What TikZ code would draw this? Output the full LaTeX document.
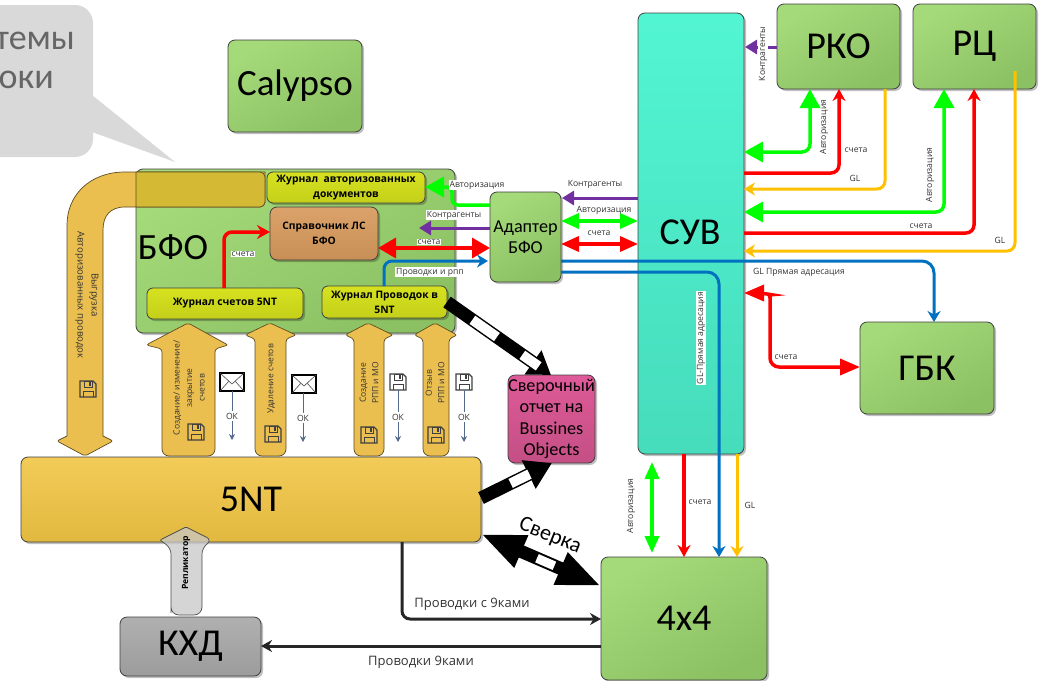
\documentclass[tikz,border=0pt]{standalone}
\usepackage{fontspec}
\setmainfont{Carlito}
\newfontfamily\labf{Open Sans}
\usetikzlibrary{arrows.meta,shadows,calc}
\definecolor{cgreenA}{HTML}{A4DA7A}
\definecolor{cgreenB}{HTML}{8CC163}
\definecolor{cyelA}{HTML}{F2CB58}
\definecolor{cyelB}{HTML}{E2B93F}
\definecolor{carrow}{HTML}{EBBE50}
\definecolor{colive}{HTML}{D4B935}
\definecolor{clime}{HTML}{D6E21F}
\definecolor{climeB}{HTML}{C4CF1A}
\definecolor{cbrownA}{HTML}{DBA36B}
\definecolor{cbrownB}{HTML}{C78F55}
\definecolor{cteal}{HTML}{52F5D2}
\definecolor{ctealB}{HTML}{46DCBC}
\definecolor{cpinkA}{HTML}{DE5A98}
\definecolor{cpinkB}{HTML}{C44F85}
\definecolor{cgrey}{HTML}{B0B0B0}
\definecolor{cgreyB}{HTML}{9C9C9C}
\definecolor{cpurple}{HTML}{7030A0}
\definecolor{cyline}{HTML}{FFC000}
\definecolor{cblue}{HTML}{0070C0}
\definecolor{cok}{HTML}{55698A}
\newcommand\yupshape[8]{\draw[yarrow,rounded corners=3pt] (#1,#8) -- (#1,#7+4) -- (#3,#7) [rounded corners=2pt] -- (#5,#6) -- (#4,#7) [rounded corners=3pt] -- (#2,#7+4) -- (#2,#8) [rounded corners=7pt] -- (#2,456) -- (#1,456) -- cycle;}
\tikzset{
  boxbase/.style={draw=black!75,line width=.8pt,rounded corners=7pt,anchor=north west,inner sep=0pt,outer sep=0pt,align=center,
    drop shadow={shadow xshift=2pt,shadow yshift=-2pt,fill=black,opacity=.25}},
  greenbox/.style={boxbase,top color=cgreenA,bottom color=cgreenB,shading angle=30},
  yelbox/.style={boxbase,top color=cyelA,bottom color=cyelB},
  limebox/.style={boxbase,top color=clime,bottom color=climeB,rounded corners=6pt,font=\labf\bfseries\fontsize{10.3}{15}\selectfont},
  brownbox/.style={boxbase,top color=cbrownA,bottom color=cbrownB,font=\labf\bfseries\fontsize{10.3}{15}\selectfont},
  tealbox/.style={boxbase,top color=cteal,bottom color=ctealB},
  pinkbox/.style={boxbase,top color=cpinkA,bottom color=cpinkB},
  greybox/.style={boxbase,top color=cgrey,bottom color=cgreyB},
  bigtxt/.style={font=\fontsize{38}{40}\selectfont},
  midtxt/.style={font=\fontsize{18.2}{21.3}\selectfont},
  lbl/.style={font=\labf\fontsize{8.6}{10}\selectfont,text=black!80,inner sep=1pt,fill=white},
  lblclear/.style={font=\labf\fontsize{8.6}{10}\selectfont,text=black!80,inner sep=1pt},
  arrowtxt/.style={font=\labf\fontsize{8.5}{12.5}\selectfont,text=black!80,inner sep=0pt,align=center},
  yarrow/.style={draw=black!60!carrow,line width=.7pt,fill=carrow},
  grn/.style={line width=3.5pt,draw=green,rounded corners=8pt,>={Triangle[length=19pt,width=20pt]}},
  rd/.style={line width=3.5pt,draw=red,rounded corners=8pt,>={Triangle[length=18pt,width=20pt]}},
  rdthin/.style={line width=3.5pt,draw=red,rounded corners=8pt,>={Stealth[length=12pt,width=13pt]}},
  prp/.style={line width=3pt,draw=cpurple,>={Triangle[length=12pt,width=14pt]}},
  ylw/.style={line width=3pt,draw=cyline,rounded corners=8pt,>={Stealth[length=11pt,width=13pt]}},
  blu/.style={line width=3pt,draw=cblue,rounded corners=8pt,>={Stealth[length=11pt,width=13pt]}},
  blk/.style={line width=3pt,draw=black!85,rounded corners=8pt,>={Stealth[length=11pt,width=12pt]}},
  okline/.style={draw=cok,line width=.8pt,-{Stealth[length=6pt,width=6pt]}},
  floppy/.pic={
    \draw[draw=black!75,line width=1.1pt,fill=#1] (-8,-8) -- (5,-8) -- (8,-5) -- (8,8) -- (-8,8) -- cycle;
    \draw[draw=black!75,line width=1pt,fill=#1] (-4,-8) rectangle (4,-2);
    \fill[black!75] (1,-7.5) rectangle (3,-3);
    \draw[draw=black!75,line width=1pt] (-5,8) -- (-5,2) -- (5,2) -- (5,8);
  },
  envelope/.pic={
    \draw[draw=black,line width=1.4pt,fill=white] (-12,-9) rectangle (12,9);
    \draw[draw=black!70,line width=.6pt] (-12,-9) -- (0,2) -- (12,-9) (-12,9) -- (-3,-1) (12,9) -- (3,-1);
  }
}
\begin{document}
\begin{tikzpicture}[x=1pt,y=-1pt]
\useasboundingbox (0,0) rectangle (1043,680);
% callout
\fill[black!15,rounded corners=18pt] (-40,5) -- (93,5) -- (93,157) -- (-40,157) -- cycle;
\fill[black!15] (92,95) -- (175,162) -- (92,132) -- cycle;
\node[anchor=east,text=black!60,font=\fontsize{36}{40}\selectfont,inner sep=0pt] (cal1) at (75,41) {темы};
\node[anchor=east,text=black!60,font=\fontsize{36}{40}\selectfont,inner sep=0pt] (cal2) at (54,80) {оки};
% Calypso
\node[greenbox,minimum width=134pt,minimum height=92pt,font=\fontsize{37}{40}\selectfont] (calypso) at (228,40) {Calypso};
% BFO panel
\node[greenbox,minimum width=319pt,minimum height=164pt] (bfo) at (136,169) {};
\node[anchor=center,font=\fontsize{37}{40}\selectfont,inner sep=0pt] (bfot) at (173,247) {БФО};
% export arrow
\draw[yarrow,rounded corners=5pt]
  (265,172) -- (265,207) [sharp corners] -- (125,207) .. controls (110,207) and (103,216) .. (103,230) -- (103,436) [rounded corners=2pt] -- (113,441) -- (85,456) -- (57,441) [sharp corners] -- (67,436) -- (67,225) .. controls (67,195) and (90,172) .. (125,172) -- cycle;
\draw[draw=black!60!carrow,line width=.7pt,fill=colive,rounded corners=5pt] (136,207) [sharp corners] -- (136,172) [rounded corners=5pt] -- (265,172) -- (265,207) [sharp corners] -- cycle;
\node[arrowtxt,rotate=-90,font=\labf\fontsize{9.6}{14}\selectfont] (vyg) at (87,295) {Выгрузка\\Авторизованных проводок};
\pic at (88,389) {floppy=carrow};
% up arrows
\yupshape{162}{215}{146}{228}{188}{323}{345}{400}
\yupshape{255}{286}{245}{296}{270}{323}{335}{400}
\yupshape{354}{384}{345}{393}{368}{323}{335}{400}
\yupshape{423}{449}{414}{457}{435}{323}{335}{400}
\node[arrowtxt,rotate=90] (t1) at (189,388) {Создание/ изменение/\\закрытие\\счетов};
\node[arrowtxt,rotate=90] (t2) at (271,379) {Удаление счетов};
\node[arrowtxt,rotate=90] (t3) at (369,383) {Создание\\РПП и МО};
\node[arrowtxt,rotate=90] (t4) at (435,383) {Отзыв\\РПП и МО};
\pic at (196,432) {floppy=carrow};
\pic at (273,434) {floppy=carrow};
\pic at (369,435) {floppy=carrow};
\pic at (436,435) {floppy=carrow};
% OK markers
\pic at (232,382) {envelope};
\pic at (304,384) {envelope};
\pic at (398,382) {floppy=white};
\pic at (464,382) {floppy=white};
\node[lblclear,inner sep=2pt] (ok1) at (232,416) {ОК};
\node[lblclear,inner sep=2pt] (ok2) at (303,418) {ОК};
\node[lblclear,inner sep=2pt] (ok3) at (398,417) {ОК};
\node[lblclear,inner sep=2pt] (ok4) at (464,417) {ОК};
\coordinate (okc1) at (232,391); \coordinate (oke1) at (232,440);
\coordinate (okc2) at (303,393); \coordinate (oke2) at (303,442);
\coordinate (okc3) at (398,390); \coordinate (oke3) at (398,442);
\coordinate (okc4) at (464,390); \coordinate (oke4) at (464,442);
\draw[draw=cok,line width=.8pt] (okc1) -- (ok1.north);
\draw[okline] (ok1.south) -- (oke1);
\draw[draw=cok,line width=.8pt] (okc2) -- (ok2.north);
\draw[okline] (ok2.south) -- (oke2);
\draw[draw=cok,line width=.8pt] (okc3) -- (ok3.north);
\draw[okline] (ok3.south) -- (oke3);
\draw[draw=cok,line width=.8pt] (okc4) -- (ok4.north);
\draw[okline] (ok4.south) -- (oke4);
% inner boxes
\node[limebox,minimum width=158pt,minimum height=31pt] (j1) at (267,172) {Журнал\ \ авторизованных\\документов};
\node[brownbox,minimum width=108pt,minimum height=53pt] (sprav) at (270,207) {Справочник ЛС\\БФО};
\node[limebox,minimum width=156pt,minimum height=31pt] (j2) at (147,288) {Журнал счетов 5NT};
\node[limebox,minimum width=125pt,minimum height=32pt] (j3) at (322,286) {Журнал Проводок в\\5NT};
% main boxes
\node[greenbox,minimum width=71pt,minimum height=90pt,midtxt] (adapter) at (490,192) {Адаптер\\БФО};
\node[pinkbox,minimum width=87pt,minimum height=88pt,midtxt] (report) at (508,375) {Сверочный\\отчет на\\Bussines\\Objects};
\node[tealbox,minimum width=106pt,minimum height=441pt] (suv) at (638,13) {};
\node[bigtxt,inner sep=0pt] (suvt) at (690,232) {СУВ};
\node[greenbox,minimum width=123pt,minimum height=85pt,bigtxt] (rko) at (777,4) {РКО};
\node[greenbox,minimum width=123pt,minimum height=85pt,bigtxt] (rc) at (913,4) {РЦ};
\node[greenbox,minimum width=134pt,minimum height=92pt,bigtxt] (gbk) at (860,322) {ГБК};
\node[yelbox,minimum width=460pt,minimum height=85pt,bigtxt] (fnt) at (21,457) {5NT};
\node[greybox,minimum width=141pt,minimum height=59pt,bigtxt] (khd) at (120,617) {КХД};
\node[greenbox,minimum width=166pt,minimum height=123pt,bigtxt] (ff) at (601,557) {4x4};
% replicator
\draw[draw=black!70,line width=.7pt,fill=black!22,fill opacity=.75,rounded corners=3pt]
  (171,607) [rounded corners=8pt] -- (171,615) -- (202,615) [rounded corners=6pt] -- (202,548) -- (212,540) [rounded corners=1pt] -- (186,527) -- (160,540) [rounded corners=6pt] -- (171,548) -- cycle;
\node[rotate=90,inner sep=0pt,font=\labf\bfseries\fontsize{8.6}{10}\selectfont] (repl) at (186,563) {Репликатор};
% inside BFO
\draw[rd,->,>={Stealth[length=13pt,width=14pt]}] (224,0 |- j2.north) |- (sprav.west |- 0,232);
\node[lblclear,fill=white] (l0) at (243,254) {счета};
\draw[grn,->,rounded corners=6pt] (adapter.west |- 0,205) -- (452,205) |- (j1.east |- 0,187);
\node[lbl] (l1) at (477,185) {Авторизация};
\draw[prp,->] (adapter.west |- 0,228) -- (419,228);
\node[lbl] (l2) at (454,215) {Контрагенты};
\draw[rd,<->] (sprav.east |- 0,248) -- (adapter.west |- 0,248);
\node[lbl] (l3) at (429,242) {счета};
\draw[blu,->] (384,0 |- j3.north) |- (488,261);
\node[lbl] (l4) at (430,272) {Проводки и рпп};
% striped arrows
\draw[line width=13pt,draw=black,-{Triangle[length=22pt,width=28pt]}] (j3.east) -- (551,0 |- report.north);
\draw[line width=10pt,draw=white,dash pattern=on 0pt off 31pt on 30pt off 31pt on 20pt off 200pt] (j3.east) -- (551,0 |- report.north);
\draw[line width=13pt,draw=black,-{Triangle[length=26pt,width=30pt]}] (fnt.east |- 0,498) -- (552,0 |- report.south);
\draw[line width=10pt,draw=white,dash pattern=on 0pt off 33pt on 21pt off 200pt] (fnt.east |- 0,498) -- (552,0 |- report.south);
% sverka
\draw[line width=13pt,draw=black,{Triangle[length=44pt,width=32pt]}-{Triangle[length=44pt,width=32pt]}] (fnt.east |- 0,534) -- (ff.west |- 0,586);
\draw[line width=9pt,draw=white,dash pattern=on 0pt off 61pt on 19pt off 200pt] (fnt.east |- 0,534) -- (ff.west |- 0,586);
\node[rotate=-22,inner sep=0pt,font=\fontsize{22}{24}\selectfont] (sv) at (550,536) {Сверка};
% adapter - SUV
\draw[prp,->] (suv.west |- 0,198) -- (562,198);
\node[lblclear] (l5) at (595,184) {Контрагенты};
\draw[grn,<->,>={Triangle[length=18pt,width=15pt]}] (adapter.east |- 0,221) -- (suv.west |- 0,221);
\node[lblclear] (l6) at (604,210) {Авторизация};
\draw[rd,<->,>={Triangle[length=18pt,width=15pt]}] (adapter.east |- 0,244) -- (suv.west |- 0,244);
\node[lblclear] (l7) at (599,233) {счета};
\draw[blu,->,rounded corners=12pt] (adapter.east |- 0,261) -| (934,0 |- gbk.north);
\draw[blu,->,rounded corners=12pt] (adapter.east |- 0,272) -| (719,0 |- ff.north);
\node[lblclear] (l8) at (799,272) {GL Прямая адресация};
\node[lbl,rotate=90] (l9) at (701,338) {GL-Прямая адресация};
% right side
\draw[prp,->] (rko.west |- 0,47) -- (745,47);
\node[lbl,rotate=90] (l10) at (763,54) {Контрагенты};
\draw[grn,<->] (suv.east |- 0,152) -| (810,0 |- rko.south);
\node[lblclear,rotate=90] (l11) at (824,127) {Авторизация};
\draw[rdthin,->] (suv.east |- 0,173) -| (839,0 |- rko.south);
\node[lblclear] (l12) at (856,150) {счета};
\draw[ylw,->] (885,0 |- rko.south) |- (suv.east |- 0,189);
\node[lblclear] (l13) at (855,178) {GL};
\draw[grn,<->] (suv.east |- 0,212) -| (944,0 |- rc.south);
\node[lblclear,rotate=90] (l14) at (930,175) {Авторизация};
\draw[rdthin,->] (suv.east |- 0,233) -| (974,0 |- rc.south);
\node[lblclear] (l15) at (921,226) {счета};
\draw[ylw,->] (1015,71) |- (suv.east |- 0,251);
\node[lblclear] (l16) at (1000,240) {GL};
\draw[rd,<->,rounded corners=9pt,>={Triangle[length=20pt,width=16pt]}] (suv.east |- 0,293) -- (763,293) .. controls (768,294) and (770,298) .. (770,306) |- (gbk.west |- 0,367);
\node[lblclear] (l17) at (786,357) {счета};
% SUV - 4x4
\coordinate (gt) at (652,462); \coordinate (gb) at (652,553);
\draw[grn,<->,>={Triangle[length=17pt,width=14pt]}] (gt) -- (gb);
\node[lblclear,rotate=90] (l18) at (631,506) {Авторизация};
\draw[rdthin,->] (684,0 |- suv.south) -- (684,0 |- ff.north);
\node[lblclear] (l19) at (700,502) {счета};
\draw[ylw,->] (737,0 |- suv.south) -- (737,0 |- ff.north);
\node[lblclear] (l20) at (750,505) {GL};
% black lines
\draw[blk,->] (402,0 |- fnt.south) |- (ff.west |- 0,619);
\node[inner sep=0pt,font=\labf\fontsize{13}{15}\selectfont,text=black!80] (l21) at (472,604) {Проводки с 9ками};
\draw[blk,->] (ff.west |- 0,646) -- (khd.east |- 0,646);
\node[inner sep=0pt,font=\labf\fontsize{13}{15}\selectfont,text=black!80] (l22) at (421,662) {Проводки 9ками};
\end{tikzpicture}
\end{document}
